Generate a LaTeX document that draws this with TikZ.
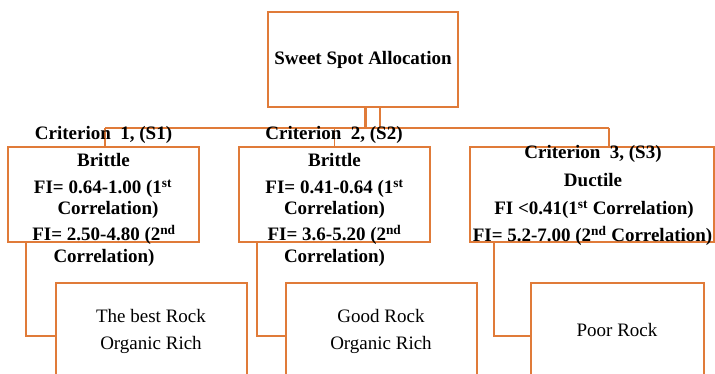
\documentclass[tikz,border=0pt]{standalone}
\usepackage{fontspec}
\setmainfont{Liberation Serif}
\definecolor{rim}{HTML}{E07B39}
\begin{document}
\begin{tikzpicture}[x=1pt,y=-1pt,
  frame/.style={draw=rim, line width=1.6pt, rectangle, inner sep=0pt},
  link/.style={draw=rim, line width=1.6pt},
  hd/.style={font=\fontsize{19}{22}\selectfont\bfseries, inner sep=0pt, anchor=base},
  rk/.style={font=\fontsize{19}{22}\selectfont, inner sep=0pt, anchor=base}]
\useasboundingbox (0,0) rectangle (715,374);
\clip (0,0) rectangle (715,374);

% boxes
\node[frame, minimum width=190pt, minimum height=95pt] (top) at (363,59.5) {};
\node[frame, minimum width=191pt, minimum height=95pt] (b1) at (103.5,194.5) {};
\node[frame, minimum width=191pt, minimum height=95pt] (b2) at (334.5,194.5) {};
\node[frame, minimum width=244pt, minimum height=95pt] (b3) at (592,194.5) {};
\node[frame, minimum width=191pt, minimum height=106pt] (r1) at (151.5,336) {};
\node[frame, minimum width=191pt, minimum height=106pt] (r2) at (381.5,336) {};
\node[frame, minimum width=173pt, minimum height=106pt] (r3) at (617.5,336) {};

% bus between the root and the three criteria
\coordinate (busL) at (105,128);
\coordinate (busR) at (609,128);
\draw[link, line width=3pt] ([xshift=2pt]top.south) -- ([xshift=2pt]top.south |- busL);
\draw[link] ([xshift=17pt]top.south) -- ([xshift=17pt]top.south |- busL);
\draw[link] (busL) -- (busR);
\draw[link] (busL) -- (busL |- b1.north);
\draw[link] (b2.north |- busL) -- (b2.north);
\draw[link] (busR) -- (busR |- b3.north);

% elbows down to the rock classes
\draw[link] ([xshift=19pt]b1.south west) |- (r1.west);
\draw[link] ([xshift=19pt]b2.south west) |- (r2.west);
\draw[link] ([xshift=24.5pt]b3.south west) |- (r3.west);

% root label
\node[hd] (ttop) at (363,65) {Sweet Spot Allocation};

% criteria headings
\node[hd] (c1) at (103.5,139.5) {Criterion~ 1, (S1)};
\node[hd] (c2) at (334,139.5) {Criterion~ 2, (S2)};

% criterion 1
\node[hd] (a1) at (103.5,167) {Brittle};
\node[hd] (a2) at (103,194) {FI= 0.64-1.00 (1\textsuperscript{st}};
\node[hd] (a3) at (108,215) {Correlation)};
\node[hd] (a4) at (104,241) {FI= 2.50-4.80 (2\textsuperscript{nd}};
\node[hd] (a5) at (104,262) {Correlation)};

% criterion 2
\node[hd] (e1) at (334.5,167) {Brittle};
\node[hd] (e2) at (334.5,194) {FI= 0.41-0.64 (1\textsuperscript{st}};
\node[hd] (e3) at (334.5,215) {Correlation)};
\node[hd] (e4) at (334.5,241) {FI= 3.6-5.20 (2\textsuperscript{nd}};
\node[hd] (e5) at (334.5,262) {Correlation)};

% criterion 3
\node[hd] (d1) at (593,159) {Criterion~ 3, (S3)};
\node[hd] (d2) at (593,187) {Ductile};
\node[hd] (d3) at (594,215) {FI <0.41(1\textsuperscript{st} Correlation)};
\node[hd] (d4) at (592.5,242) {FI= 5.2-7.00 (2\textsuperscript{nd} Correlation)};

% rock classes
\node[rk] (p1) at (151,322) {The best Rock};
\node[rk] (p2) at (151,349) {Organic Rich};
\node[rk] (q1) at (381,322) {Good Rock};
\node[rk] (q2) at (381,349) {Organic Rich};
\node[rk] (s1) at (617,336) {Poor Rock};
\end{tikzpicture}
\end{document}
